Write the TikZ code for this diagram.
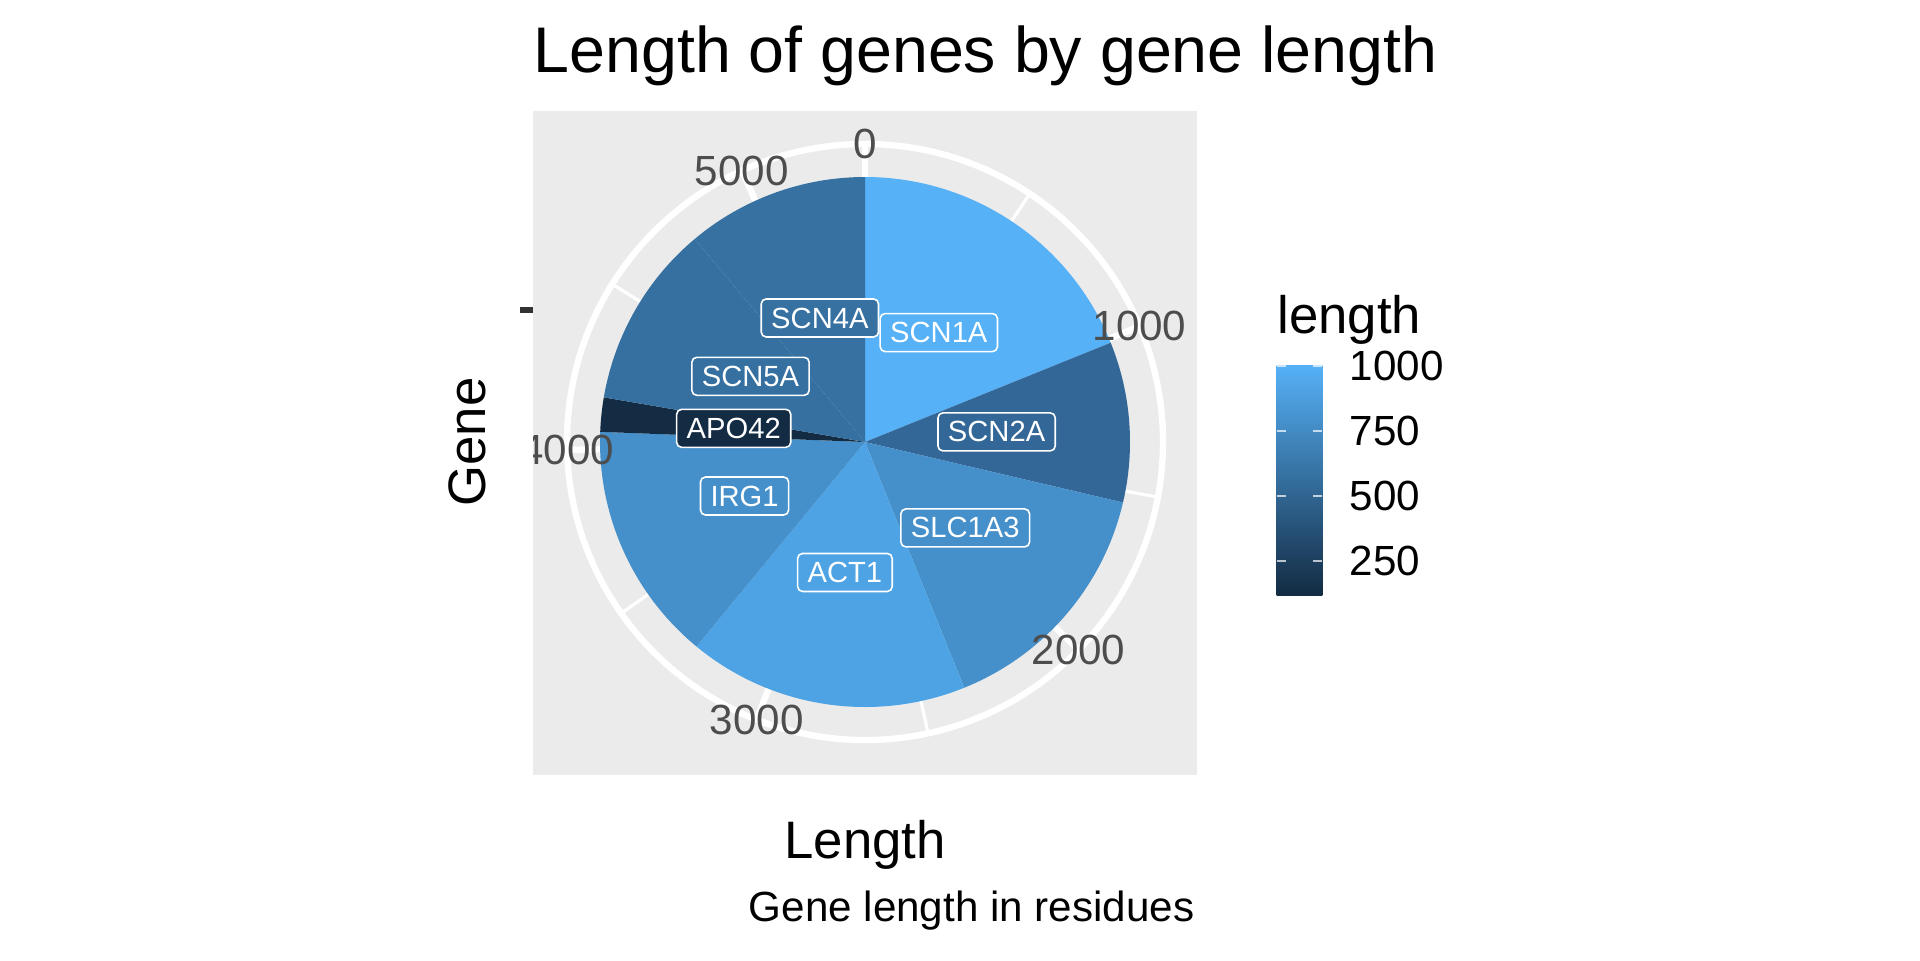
\documentclass[tikz,border=0pt]{standalone}
\usepackage{fontspec}
\setmainfont{Liberation Sans}
\usepackage{tikz}

\definecolor{panelgrey}{HTML}{EBEBEB}
\definecolor{ticklab}{HTML}{4D4D4D}
\definecolor{axisgrey}{HTML}{333333}
\definecolor{fillSCNoneA}{HTML}{56B1F7}
\definecolor{fillSCNtwoA}{HTML}{326797}
\definecolor{fillSLC}{HTML}{4590CA}
\definecolor{fillACT}{HTML}{4DA3E3}
\definecolor{fillIRG}{HTML}{4590CA}
\definecolor{fillAPO}{HTML}{132B43}
\definecolor{fillSCNfiveA}{HTML}{3670A0}
\definecolor{fillSCNfourA}{HTML}{3771A1}
\definecolor{legmid}{HTML}{336A98}

\tikzset{
  genelabel/.style={draw=white, line width=0.45pt, rounded corners=1.4pt, text=white,
    inner xsep=0.1cm, inner ysep=0pt, minimum height=0.38cm,
    font=\fontsize{8.3}{9}\selectfont},
  thetalab/.style={text=ticklab, inner sep=0pt, font=\fontsize{12}{14}\selectfont},
  majorgrid/.style={white, line width=1.8pt},
  minorgrid/.style={white, line width=0.9pt}
}

\begin{document}
\begin{tikzpicture}
  \useasboundingbox (0,0) rectangle (19.2,9.6);

  % panel and grid
  \fill[panelgrey] (5.33,1.85) rectangle (11.97,8.49);
  \coordinate (c) at (8.65,5.18);
  \draw[majorgrid] (c) -- ++(90:2.98);
  \draw[majorgrid] (c) -- ++(22.89:2.98);
  \draw[majorgrid] (c) -- ++(-44.23:2.98);
  \draw[majorgrid] (c) -- ++(-111.34:2.98);
  \draw[majorgrid] (c) -- ++(-178.46:2.98);
  \draw[majorgrid] (c) -- ++(-245.57:2.98);
  \draw[minorgrid] (c) -- ++(56.44:2.98);
  \draw[minorgrid] (c) -- ++(-10.67:2.98);
  \draw[minorgrid] (c) -- ++(-77.79:2.98);
  \draw[minorgrid] (c) -- ++(-144.9:2.98);
  \draw[minorgrid] (c) -- ++(-212:2.98);
  \draw[majorgrid] (c) circle[radius=2.98];

  % slices
  \fill[fillSCNoneA] (c) -- ++(90:2.65) arc[start angle=90, end angle=22, radius=2.65] -- cycle;
  \fill[fillSCNtwoA] (c) -- ++(22:2.65) arc[start angle=22, end angle=-13.2, radius=2.65] -- cycle;
  \fill[fillSLC] (c) -- ++(-13.2:2.65) arc[start angle=-13.2, end angle=-68, radius=2.65] -- cycle;
  \fill[fillACT] (c) -- ++(-68:2.65) arc[start angle=-68, end angle=-129.5, radius=2.65] -- cycle;
  \fill[fillIRG] (c) -- ++(-129.5:2.65) arc[start angle=-129.5, end angle=-182.2, radius=2.65] -- cycle;
  \fill[fillAPO] (c) -- ++(-182.2:2.65) arc[start angle=-182.2, end angle=-189.7, radius=2.65] -- cycle;
  \fill[fillSCNfiveA] (c) -- ++(-189.7:2.65) arc[start angle=-189.7, end angle=-230, radius=2.65] -- cycle;
  \fill[fillSCNfourA] (c) -- ++(-230:2.65) arc[start angle=-230, end angle=-270, radius=2.65] -- cycle;

  % gene labels
  \draw ([shift={(56:1.32)}]c) node[genelabel, fill=fillSCNoneA] (scn1a) {SCN1A};
  \draw ([shift={(4.4:1.32)}]c) node[genelabel, fill=fillSCNtwoA] (scn2a) {SCN2A};
  \draw ([shift={(-40.6:1.32)}]c) node[genelabel, fill=fillSLC] (slc1a3) {SLC1A3};
  \draw ([shift={(-98.75:1.32)}]c) node[genelabel, fill=fillACT] (act1) {ACT1};
  \draw ([shift={(-155.85:1.32)}]c) node[genelabel, fill=fillIRG] (irg1) {IRG1};
  \draw ([shift={(-185.95:1.32)}]c) node[genelabel, fill=fillAPO] (apo42) {APO42};
  \draw ([shift={(-209.85:1.32)}]c) node[genelabel, fill=fillSCNfiveA] (scn5a) {SCN5A};
  \draw ([shift={(-250:1.32)}]c) node[genelabel, fill=fillSCNfourA] (scn4a) {SCN4A};

  % theta labels, clipped to the panel
  \begin{scope}
    \clip (5.33,1.85) rectangle (11.97,8.49);
    \draw ([shift={(90:2.98)}]c) node[thetalab] (t0) {0};
    \draw ([shift={(22.89:2.98)}]c) node[thetalab] (t1000) {1000};
    \draw ([shift={(-44.23:2.98)}]c) node[thetalab] (t2000) {2000};
    \draw ([shift={(-111.34:2.98)}]c) node[thetalab] (t3000) {3000};
    \draw ([shift={(-178.46:2.98)}]c) node[thetalab] (t4000) {4000};
    \draw ([shift={(-245.57:2.98)}]c) node[thetalab] (t5000) {5000};
  \end{scope}

  % axis tick and titles
  \coordinate (tickin) at (5.33,6.50);
  \draw[axisgrey, line width=1.9pt] (tickin) -- ++(-0.132,0);
  \draw (5.33,8.88) node[anchor=base west, inner sep=0pt, font=\fontsize{18.35}{22}\selectfont] (title) {Length of genes by gene length};
  \draw (8.65,1.017) node[anchor=base, inner sep=0pt, font=\fontsize{15}{18}\selectfont] (xtitle) {Length};
  \draw (4.85,5.18) node[anchor=base, rotate=90, inner sep=0pt, font=\fontsize{15}{18}\selectfont] (ytitle) {Gene};
  \draw (11.95,0.383) node[anchor=base east, inner sep=0pt, font=\fontsize{12}{14}\selectfont] (caption) {Gene length in residues};

  % legend
  \draw (12.767,6.27) node[anchor=base west, inner sep=0pt, font=\fontsize{15}{18}\selectfont] (legtitle) {length};
  \shade[bottom color=fillAPO, middle color=legmid, top color=fillSCNoneA] (12.767,3.65) rectangle (13.223,5.95);
  \draw[white, opacity=0.7, line width=0.5pt] (12.767,5.94) -- ++(0.09,0) (13.223,5.94) -- ++(-0.09,0);
  \draw[white, opacity=0.7, line width=0.5pt] (12.767,5.293) -- ++(0.09,0) (13.223,5.293) -- ++(-0.09,0);
  \draw[white, opacity=0.7, line width=0.5pt] (12.767,4.64) -- ++(0.09,0) (13.223,4.64) -- ++(-0.09,0);
  \draw[white, opacity=0.7, line width=0.5pt] (12.767,3.99) -- ++(0.09,0) (13.223,3.99) -- ++(-0.09,0);
  \draw (13.49,5.94) node[anchor=west, inner sep=0pt, font=\fontsize{12}{14}\selectfont] (l1000) {1000};
  \draw (13.49,5.293) node[anchor=west, inner sep=0pt, font=\fontsize{12}{14}\selectfont] (l750) {750};
  \draw (13.49,4.64) node[anchor=west, inner sep=0pt, font=\fontsize{12}{14}\selectfont] (l500) {500};
  \draw (13.49,3.99) node[anchor=west, inner sep=0pt, font=\fontsize{12}{14}\selectfont] (l250) {250};
\end{tikzpicture}
\end{document}
